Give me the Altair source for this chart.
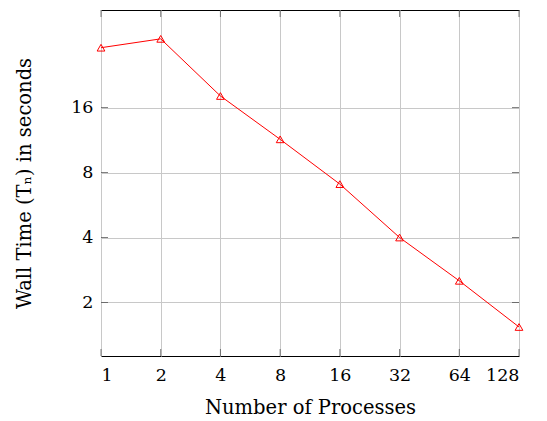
import altair as alt
import pandas as pd

processes = [1, 2, 4, 8, 16, 32, 64, 128]
wall_time = [30.3, 33.3, 18.1, 11.4, 7.07, 4.0, 2.52, 1.54]
x_ticks = [1, 2, 4, 8, 16, 32, 64, 128]
y_ticks = [2, 4, 8, 16]

df = pd.DataFrame({"p": processes, "t": wall_time})
xt = pd.DataFrame({"v": x_ticks})
yt = pd.DataFrame({"v": y_ticks})

W, H = 418, 346
FONT = "DejaVu Serif, serif"

xscale = alt.Scale(type="log", base=2, domain=[1, 128], nice=False)
yscale = alt.Scale(type="log", base=2, domain=[1.13, 45.3], nice=False)

xaxis = alt.Axis(values=x_ticks, labelExpr="datum.value", title="Number of Processes",
                 titleX=W / 2, titleY=51, labelPadding=10)
yaxis = alt.Axis(values=y_ticks, labelExpr="datum.value", title="Wall Time (Tₙ) in seconds",
                 titleX=-77, titleY=H / 2, titleAngle=-90, labelPadding=8)

line = alt.Chart(df).mark_line(color="#ff0000", strokeWidth=1).encode(
    x=alt.X("p:Q", scale=xscale, axis=xaxis),
    y=alt.Y("t:Q", scale=yscale, axis=yaxis),
)
pts = alt.Chart(df).mark_point(shape="triangle-up", filled=False, color="#ff0000",
                               size=60, strokeWidth=1, opacity=1).encode(
    x=alt.X("p:Q", scale=xscale),
    y=alt.Y("t:Q", scale=yscale),
)

tick_style = dict(color="#444444", thickness=1, size=7)
bt = alt.Chart(xt).mark_tick(orient="vertical", **tick_style).encode(
    x=alt.X("v:Q", scale=xscale), y=alt.value(H - 3.5))
tt = alt.Chart(xt).mark_tick(orient="vertical", **tick_style).encode(
    x=alt.X("v:Q", scale=xscale), y=alt.value(3.5))
lt = alt.Chart(yt).mark_tick(orient="horizontal", **tick_style).encode(
    y=alt.Y("v:Q", scale=yscale), x=alt.value(3.5))
rt = alt.Chart(yt).mark_tick(orient="horizontal", **tick_style).encode(
    y=alt.Y("v:Q", scale=yscale), x=alt.value(W - 3.5))

chart = alt.layer(bt, tt, lt, rt, line, pts).properties(
    width=W, height=H,
    autosize=alt.AutoSizeParams(type="none"),
    padding={"left": 101, "top": 10, "right": 28, "bottom": 65},
    background="white",
).configure_view(stroke="black", strokeWidth=1).configure_axis(
    grid=True, gridColor="#c8c8c8", gridWidth=1, tickSize=0, domain=False,
    labelFont=FONT, labelFontSize=17.5, labelColor="black",
    titleFont=FONT, titleFontSize=19.5, titleFontWeight="normal", titleColor="black",
    titleBaseline="middle",
)

chart.save("out.html", embed_options={"renderer": "svg", "actions": False})
